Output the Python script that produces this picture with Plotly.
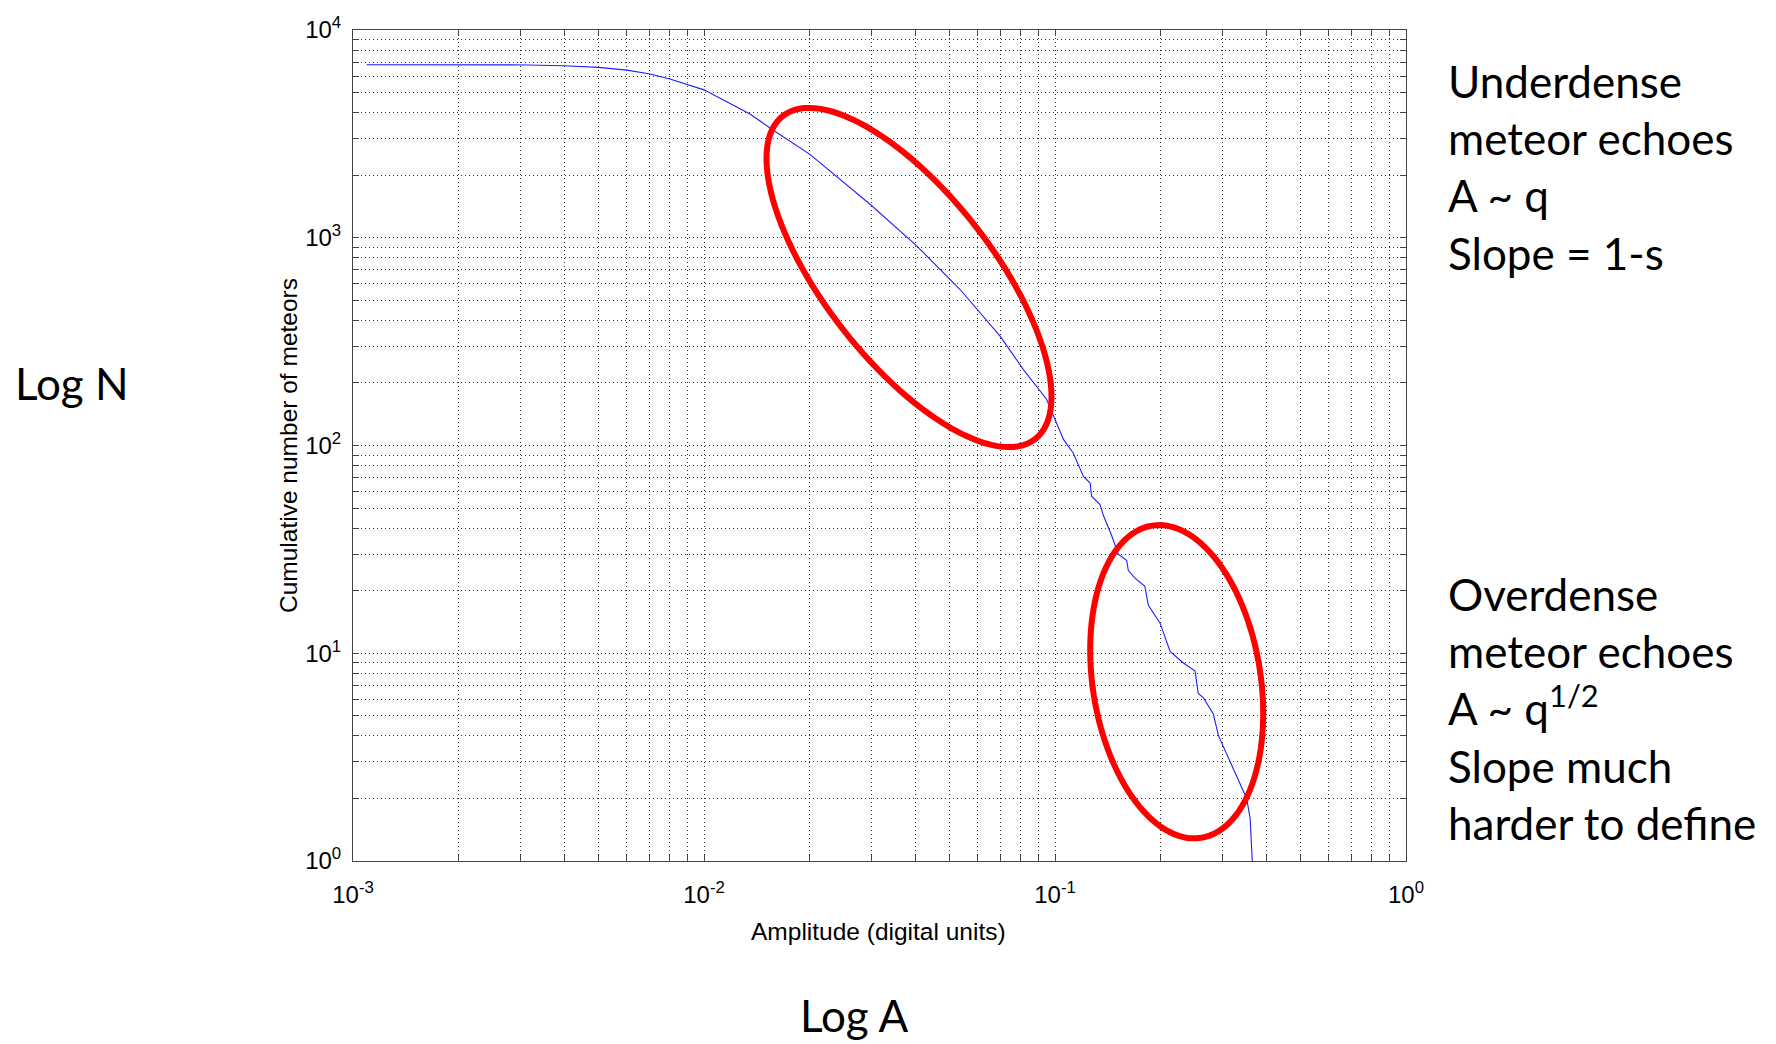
import numpy as np
import plotly.graph_objects as go

# ---------------- data ----------------
amplitude = [0.001094, 0.00299, 0.00316, 0.00398, 0.00501, 0.00603, 0.00702, 0.00800,
             0.0100, 0.01352, 0.0156, 0.02004, 0.02972, 0.04036, 0.05358, 0.06966,
             0.08128, 0.09462, 0.1057, 0.1127, 0.1205, 0.1259, 0.1271, 0.1343,
             0.1374, 0.1449, 0.1514, 0.1600, 0.1618, 0.1690, 0.1803, 0.1845,
             0.1991, 0.2128, 0.2317, 0.2506, 0.2559, 0.2649, 0.2825, 0.2924,
             0.3155, 0.3516, 0.3597, 0.3648]
cumulative = [6800, 6800, 6790, 6730, 6610, 6410, 6140, 5810,
              5150, 3940, 3330, 2520, 1450, 914, 565, 337,
              232, 167, 107, 92, 71, 66, 57, 52,
              46, 37, 30, 28, 25, 23, 21, 17,
              14, 10.2, 9.0, 8.2, 6.4, 6.1, 5.1, 4.0,
              3.0, 2.0, 1.6, 1.0]

x_major = [1e-3, 1e-2, 1e-1, 1e0]
x_major_text = ["10<sup>-3</sup>", "10<sup>-2</sup>", "10<sup>-1</sup>", "10<sup>0</sup>"]
y_major = [1e0, 1e1, 1e2, 1e3, 1e4]
y_major_text = ["10<sup>0</sup>", "10<sup>1</sup>", "10<sup>2</sup>", "10<sup>3</sup>", "10<sup>4</sup>"]
x_minor = [m * d for d in [1e-3, 1e-2, 1e-1] for m in range(2, 10)]
y_minor = [m * d for d in [1e0, 1e1, 1e2, 1e3] for m in range(2, 10)]

# ---------------- layout geometry ----------------
FIG_W, FIG_H = 1776, 1044
PL, PT, PW, PH = 353, 30, 1053, 831   # plot box in pixels


def px2paper(X, Y):
    return (X - PL) / PW, (PT + PH - Y) / PH


def ellipse_path(cx, cy, a, b, theta_deg, n=120):
    th = np.radians(theta_deg)
    t = np.linspace(0, 2 * np.pi, n, endpoint=False)
    X = cx + a * np.cos(t) * np.cos(th) - b * np.sin(t) * np.sin(th)
    Y = cy + a * np.cos(t) * np.sin(th) + b * np.sin(t) * np.cos(th)
    pts = [px2paper(x, y) for x, y in zip(X, Y)]
    d = "M {:.5f},{:.5f} ".format(*pts[0])
    d += " ".join("L {:.5f},{:.5f}".format(px, py) for px, py in pts[1:])
    return d + " Z"


fig = go.Figure()
fig.add_trace(go.Scatter(
    x=amplitude, y=cumulative, mode="lines",
    line=dict(color="rgb(30,30,255)", width=1.1, shape="linear"),
    showlegend=False, hoverinfo="skip"))

grid_col = "rgba(0,0,0,0.8)"
grid_dash = "1px,3px"
axis_common = dict(
    showline=True, linecolor="#444", linewidth=1, mirror="allticks",
    ticks="inside", ticklen=6, tickwidth=1, tickcolor="#444",
    showgrid=True, gridcolor=grid_col, griddash=grid_dash, gridwidth=1,
    zeroline=False,
    tickfont=dict(family="Liberation Sans, Arial", size=24, color="black"),
)

fig.update_xaxes(
    type="log", range=[-3, 0], tickmode="array", tickvals=x_major, ticktext=x_major_text,
    ticklabelstandoff=12,
    minor=dict(tickmode="array", tickvals=x_minor, ticks="inside", ticklen=6,
               tickcolor="#444", showgrid=True, gridcolor=grid_col, griddash=grid_dash, gridwidth=1),
    **axis_common)
fig.update_yaxes(
    type="log", range=[0, 4], tickmode="array", tickvals=y_major, ticktext=y_major_text,
    ticklabelstandoff=6,
    minor=dict(tickmode="array", tickvals=y_minor, ticks="inside", ticklen=6,
               tickcolor="#444", showgrid=True, gridcolor=grid_col, griddash=grid_dash, gridwidth=1),
    **axis_common)

# red ellipses (annotation marks)
ellipses = [
    dict(cx=909, cy=277.5, a=205, b=84, theta=52),
    dict(cx=1176.7, cy=681.7, a=158, b=84, theta=81.1),
]
for e in ellipses:
    fig.add_shape(type="path", xref="paper", yref="paper",
                  path=ellipse_path(e["cx"], e["cy"], e["a"], e["b"], e["theta"]),
                  line=dict(color="rgb(255,0,0)", width=6), fillcolor="rgba(0,0,0,0)")

big_font = dict(family="Lato, Open Sans, sans-serif", size=44, color="black")
ax_font = dict(family="Liberation Sans, Arial", size=24.5, color="black")

annots = [
    dict(text="Underdense<br>meteor echoes<br>A ~ q<br>Slope = 1-s", X=1446, Y=167,
         xanchor="left", font=big_font),
    dict(text="Overdense<br>meteor echoes<br>A ~ q<sup>1/2</sup><br>Slope much<br>harder to define",
         X=1446, Y=708, xanchor="left", font=big_font),
    dict(text="Log N", X=13, Y=383, xanchor="left", font=big_font),
    dict(text="Log A", X=854, Y=1015, xanchor="center", font=big_font),
    dict(text="Amplitude (digital units)", X=878, Y=931, xanchor="center", font=ax_font),
]
for a in annots:
    px, py = px2paper(a["X"], a["Y"])
    fig.add_annotation(text=a["text"], x=px, y=py, xref="paper", yref="paper",
                       xanchor=a["xanchor"], yanchor="middle", align="left",
                       showarrow=False, font=a["font"])

px, py = px2paper(289, 446)
fig.add_annotation(text="Cumulative number of meteors", x=px, y=py, xref="paper", yref="paper",
                   xanchor="center", yanchor="middle", textangle=-90, showarrow=False, font=ax_font)

fig.update_layout(
    width=FIG_W, height=FIG_H,
    margin=dict(l=PL, r=FIG_W - PL - PW, t=PT, b=FIG_H - PT - PH, pad=0),
    paper_bgcolor="white", plot_bgcolor="white",
    showlegend=False,
)

fig.write_html("out.html")
